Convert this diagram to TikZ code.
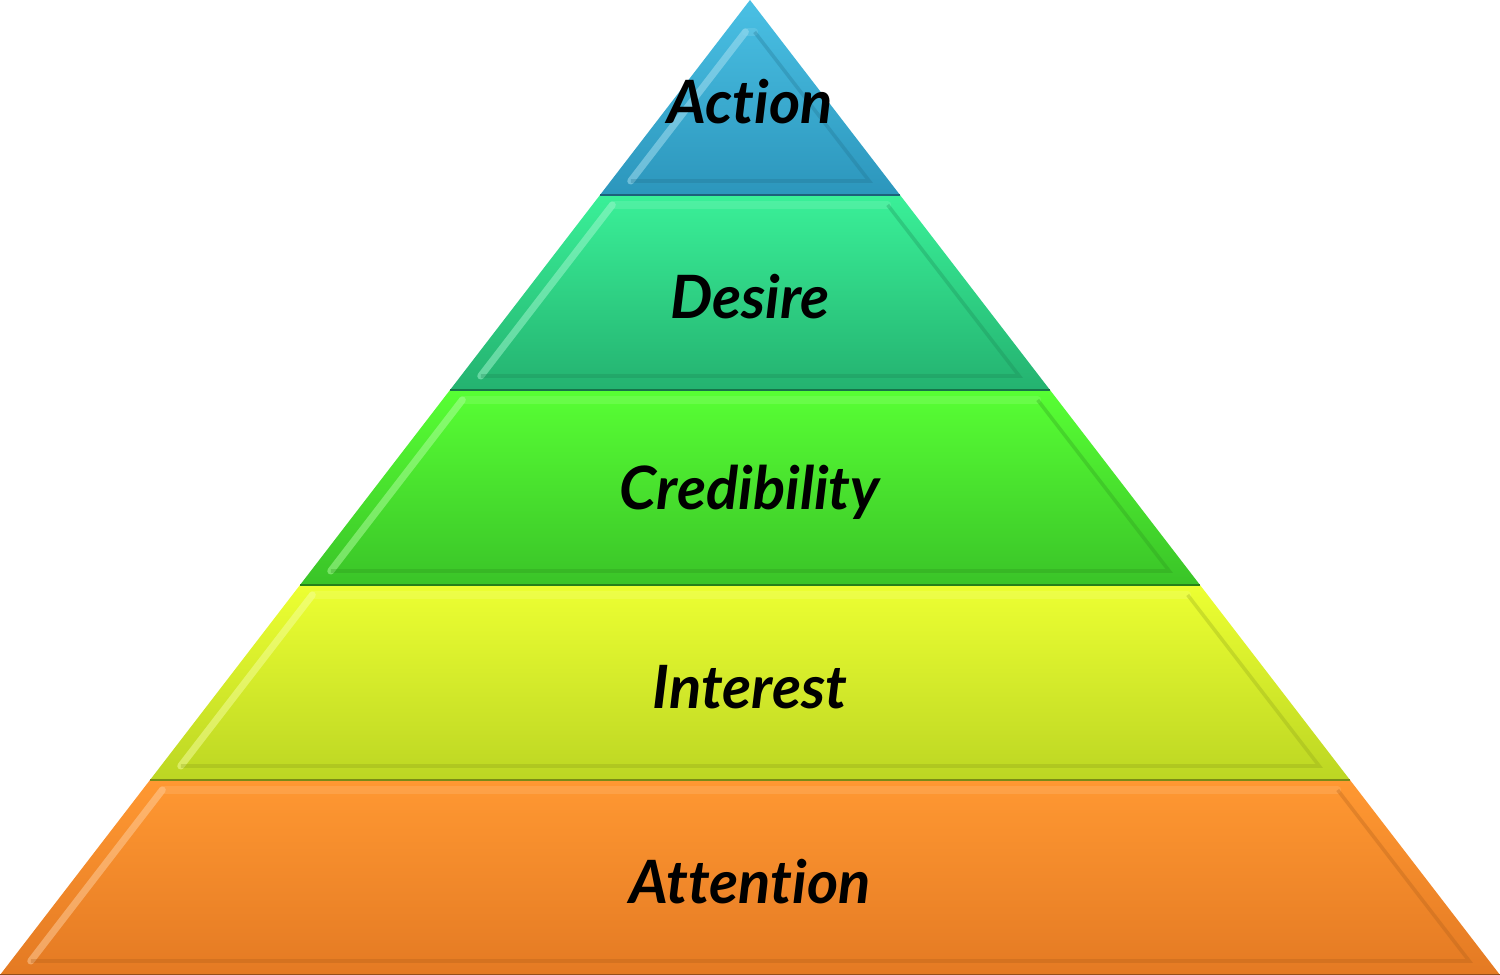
\documentclass[tikz,border=0pt]{standalone}
\usepackage{fontspec}
\setmainfont{Lato}[Ligatures=NoCommon]
\usepackage{tikz}
\usetikzlibrary{calc}
\definecolor{AttTop}{RGB}{255,152,50}
\definecolor{AttBot}{RGB}{228,122,35}
\definecolor{IntTop}{RGB}{236,255,50}
\definecolor{IntBot}{RGB}{188,214,35}
\definecolor{CreTop}{RGB}{88,255,52}
\definecolor{CreBot}{RGB}{58,196,40}
\definecolor{DesTop}{RGB}{58,240,152}
\definecolor{DesBot}{RGB}{36,178,112}
\definecolor{ActTop}{RGB}{74,192,228}
\definecolor{ActBot}{RGB}{44,150,188}
\tikzset{
  layerlabel/.style={font=\fontsize{17}{20}\selectfont\bfseries\itshape,text=black,inner sep=0pt},
  bevellight/.style={line width=2pt,line cap=round,opacity=0.5},
  beveldark/.style={line width=1pt,opacity=0.3}
}
\begin{document}
\begin{tikzpicture}[x=1cm,y=1cm]
  \useasboundingbox (0,0) rectangle (15,9.75);
  \foreach \i/\nm/\lbl/\ct/\cb in {0/attention/Attention/AttTop/AttBot,
      1/interest/Interest/IntTop/IntBot,2/credibility/Credibility/CreTop/CreBot,
      3/desire/Desire/DesTop/DesBot,4/action/Action/ActTop/ActBot}{
    \pgfmathsetmacro{\ylo}{1.95*\i}
    \pgfmathsetmacro{\yhi}{1.95*(\i+1)}
    \pgfmathsetmacro{\wlo}{7.5*(9.75-\ylo)/9.75}
    \pgfmathsetmacro{\whi}{7.5*(9.75-\yhi)/9.75}
    % layer body
    \shade[top color=\ct,bottom color=\cb]
      (7.5-\wlo,\ylo) -- (7.5+\wlo,\ylo) -- (7.5+\whi,\yhi) -- (7.5-\whi,\yhi) -- cycle;
    % inner bevel
    \pgfmathsetmacro{\yinlo}{\ylo+0.14}
    \pgfmathsetmacro{\yinhi}{\i==4 ? \yhi-0.32 : \yhi-0.1}
    \pgfmathsetmacro{\winlo}{7.5*(9.75-\yinlo)/9.75-0.2}
    \pgfmathsetmacro{\winhi}{max(0,7.5*(9.75-\yinhi)/9.75-0.2)}
    \draw[bevellight,white!55!\ct] (7.5-\winlo,\yinlo) -- (7.5-\winhi,\yinhi);
    \draw[bevellight,white!35!\ct,opacity=0.3] (7.5-\winhi,\yinhi) -- (7.5+\winhi,\yinhi);
    \draw[beveldark,black!25!\cb] (7.5-\winlo,\yinlo) -- (7.5+\winlo,\yinlo) -- (7.5+\winhi,\yinhi);
    \draw[black!35!\cb,line width=0.6pt] (7.5-\wlo,\ylo) -- (7.5+\wlo,\ylo);
    \node[layerlabel] (\nm) at (7.5,\ylo+0.93) {\lbl};
  }
\end{tikzpicture}
\end{document}
